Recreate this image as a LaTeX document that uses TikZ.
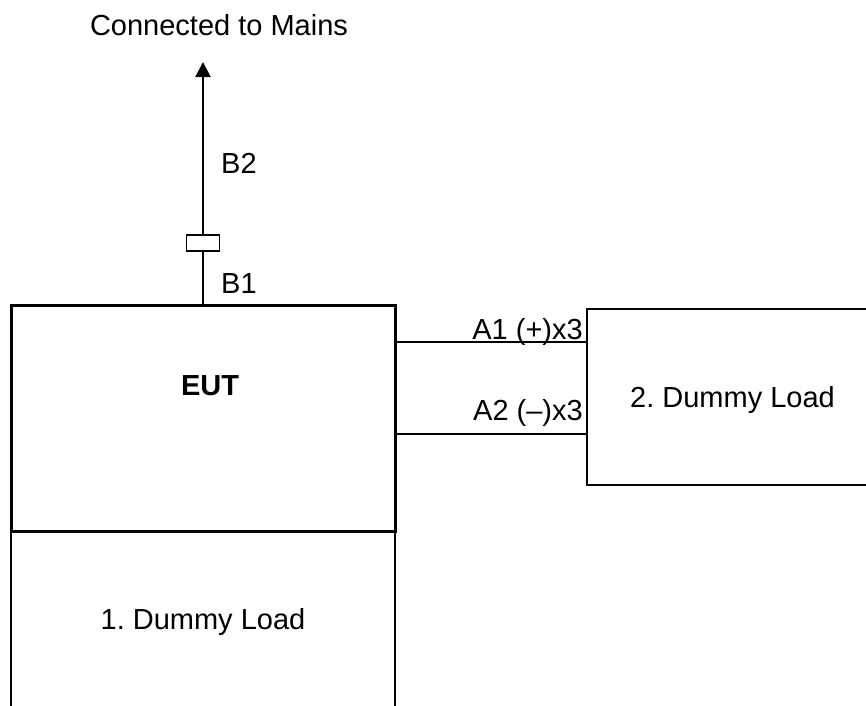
\documentclass[tikz,border=0pt]{standalone}
\usepackage{fontspec}
\setmainfont{Liberation Sans}
\usetikzlibrary{arrows.meta,calc}
\begin{document}
\frenchspacing
\begin{tikzpicture}[x=1pt,y=1pt,
  lbl/.style={inner sep=0pt,font=\fontsize{29}{34}\selectfont},
  thinline/.style={line width=2pt},
  boxstyle/.style={draw,line width=2pt,inner sep=0pt}]
\useasboundingbox (0,0) rectangle (866,-705);
\clip (0,0) rectangle (866,-705);
% EUT
\node[draw,line width=3pt,minimum width=384pt,minimum height=226pt,inner sep=0pt] (eut) at (203,-418) {};
\node[lbl,font=\fontsize{29}{34}\selectfont\bfseries] (euttxt) at (210,-386) {EUT};
% Dummy load 1 (open at bottom)
\node[boxstyle,minimum width=384pt,minimum height=200pt] (dl1) at (203,-631) {};
\node[lbl] (dl1txt) at (203,-622) {1. Dummy Load};
% Dummy load 2 (open at right)
\node[boxstyle,minimum width=320pt,minimum height=176pt] (dl2) at (747,-397) {};
\node[lbl,anchor=west] (dl2txt) at (630,-400) {2. Dummy Load};
% connector
\node[draw,line width=1.5pt,minimum width=33pt,minimum height=16pt,inner sep=0pt] (conn) at (203,-243) {};
\coordinate (top) at (203,-62);
\draw[thinline] (eut.north) -- (conn.south);
\draw[thinline,-{Triangle[width=15pt,length=15pt]}] (conn.north) -- (top);
% A lines
\coordinate (a1) at (0,-342);
\coordinate (a2) at (0,-434);
\draw[thinline] (eut.east |- a1) -- (dl2.west |- a1);
\draw[thinline] (eut.east |- a2) -- (dl2.west |- a2);
% labels
\node[lbl] (mains) at (219,-25) {Connected to Mains};
\node[lbl,anchor=west] (b2) at (221,-163) {B2};
\node[lbl,anchor=west] (b1) at (221,-284) {B1};
\node[lbl,anchor=east] (a1t) at (583,-332) {A1 (+)x3};
\node[lbl,anchor=east] (a2t) at (583,-413) {A2 (–)x3};
\end{tikzpicture}
\end{document}
